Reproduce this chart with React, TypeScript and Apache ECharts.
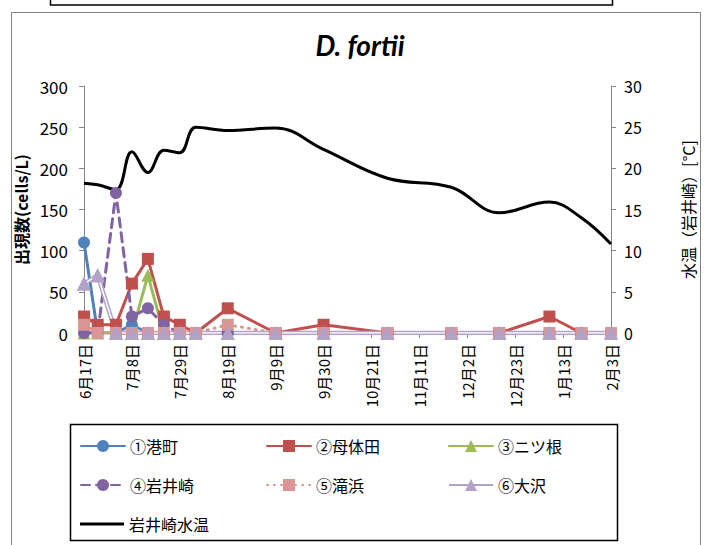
import React, { useEffect, useRef } from "react";
import * as echarts from "echarts";

// sampling dates (month/day), June 2012 – Feb 2013
const dates = ["6/17", "6/23", "7/1", "7/8", "7/15", "7/22", "7/29", "8/5", "8/19", "9/9", "9/30", "10/28", "11/25", "12/16", "1/7", "1/21", "2/3"];
const minatomachi = [110, 0, 0, 10, 0, 0, 0, 0, 0, 0, 0, 0, 0, 0, 0, 0, 0];
const motaida = [20, 10, 10, 60, 90, 20, 10, 0, 30, 0, 10, 0, 0, 0, 20, 0, 0];
const futatsune = [0, 0, 0, 0, 70, 0, 0, 0, 0, 0, 0, 0, 0, 0, 0, 0, 0];
const iwaisaki = [0, 0, 170, 20, 30, 10, 0, 0, 0, 0, 0, 0, 0, 0, 0, 0, 0];
const takinohama = [10, 0, 0, 0, 0, 0, 0, 0, 10, 0, 0, 0, 0, 0, 0, 0, 0];
const osawa = [60, 70, 0, 0, 0, 0, 0, 0, 0, 0, 0, 0, 0, 0, 0, 0, 0];
const waterTemp = [18.2, 18.0, 17.4, 22.0, 19.5, 22.2, 21.9, 25.0, 24.6, 24.9, 22.3, 18.8, 17.7, 14.6, 15.9, 14.0, 10.8];

const seriesNames = ["①港町", "②母体田", "③ニツ根", "④岩井崎", "⑤滝浜", "⑥大沢", "岩井崎水温"];

const BASE = Date.UTC(2012, 5, 17);
const DAY = 86400000;
const dayOffset = (s: string) => {
  const [m, d] = s.split("/").map(Number);
  const y = m >= 6 ? 2012 : 2013;
  return Math.round((Date.UTC(y, m - 1, d) - BASE) / DAY);
};
const xs = dates.map(dayOffset);
const pts = (vals: number[]) => vals.map((v, i) => [xs[i], v]);

const FONT = "'Noto Sans CJK JP', 'Noto Sans', sans-serif";
const AXIS_COLOR = "#868686";

export default function App() {
  const ref = useRef<HTMLDivElement>(null);
  useEffect(() => {
    if (!ref.current) return;
    const chart = echarts.init(ref.current, null, { renderer: "svg" });

    const legendPos: [number, number][] = [
      [75, 433], [261, 433], [443, 433],
      [75, 472], [261, 472], [443, 472],
      [75, 511],
    ];

    const lineSeries = (name: string, data: number[], color: string, symbol: string, size: number, lineType: any, extra: any = {}) => ({
      name,
      type: "line",
      data: pts(data),
      symbol,
      symbolSize: size,
      itemStyle: { color },
      lineStyle: { color, width: 3, type: lineType, cap: "round" },
      ...extra,
    });

    const option: any = {
      animation: false,
      textStyle: { fontFamily: FONT, color: "#000" },
      title: {
        text: "D. fortii",
        left: 355,
        top: 26,
        textAlign: "center",
        textStyle: { fontFamily: "Lato, 'Open Sans', sans-serif", fontStyle: "italic", fontWeight: "bold", fontSize: 28, color: "#000" },
      },
      legend: legendPos.map((p, i) => {
        const isTemp = i === 6;
        return {
          data: [isTemp ? { name: seriesNames[i], icon: "rect" } : seriesNames[i]],
          left: p[0],
          top: p[1],
          itemWidth: 44,
          itemHeight: isTemp ? 3 : 15,
          itemGap: 4,
          textStyle: { fontSize: 16, fontFamily: FONT, color: "#000" },
        };
      }),
      grid: { left: 84, right: 98, top: 86, bottom: 212 },
      xAxis: {
        type: "value",
        min: 0,
        max: 231,
        interval: 21,
        axisLine: { lineStyle: { color: AXIS_COLOR, width: 1 } },
        axisTick: { show: true, length: 5, lineStyle: { color: AXIS_COLOR } },
        splitLine: { show: false },
        axisLabel: {
          rotate: 90,
          fontSize: 15,
          margin: 11,
          color: "#000",
          formatter: (v: number) => {
            const dt = new Date(BASE + v * DAY);
            return `${dt.getUTCMonth() + 1}月${dt.getUTCDate()}日`;
          },
        },
      },
      yAxis: [
        {
          type: "value",
          min: 0,
          max: 300,
          interval: 50,
          name: "出現数(cells/L)",
          nameLocation: "middle",
          nameRotate: 90,
          nameGap: 50,
          nameTextStyle: { fontSize: 16, fontWeight: "bold", color: "#000" },
          axisLine: { show: true, lineStyle: { color: AXIS_COLOR } },
          axisTick: { show: true, length: 5, lineStyle: { color: AXIS_COLOR } },
          splitLine: { show: false },
          axisLabel: { fontSize: 17, color: "#000", margin: 16 },
        },
        {
          type: "value",
          min: 0,
          max: 30,
          interval: 5,
          position: "right",
          name: "水温（岩井崎）[°C]",
          nameLocation: "middle",
          nameRotate: 90,
          nameGap: 69,
          nameTextStyle: { fontSize: 16, color: "#000" },
          axisLine: { show: true, lineStyle: { color: AXIS_COLOR } },
          axisTick: { show: true, length: 5, lineStyle: { color: AXIS_COLOR } },
          splitLine: { show: false },
          axisLabel: { fontSize: 16, color: "#000", margin: 13 },
        },
      ],
      series: [
        lineSeries(seriesNames[0], minatomachi, "#4F81BD", "circle", 12, "solid"),
        lineSeries(seriesNames[1], motaida, "#C0504D", "rect", 12, "solid"),
        lineSeries(seriesNames[2], futatsune, "#9BBB59", "triangle", 13, "solid"),
        lineSeries(seriesNames[3], iwaisaki, "#8064A2", "circle", 12, [9, 6]),
        lineSeries(seriesNames[4], takinohama, "#D99694", "rect", 12, [1, 6]),
        lineSeries(seriesNames[5], osawa, "#B3A2C7", "triangle", 14, "solid", { lineStyle: { color: "#B3A2C7", width: 4.5 } }),
        {
          name: "osawa-inner",
          type: "line",
          data: pts(osawa),
          symbol: "none",
          lineStyle: { color: "#fff", width: 1.5 },
          silent: true,
        },
        {
          name: "osawa-marks",
          type: "line",
          data: pts(osawa),
          symbol: "triangle",
          symbolSize: 14,
          itemStyle: { color: "#B3A2C7" },
          lineStyle: { opacity: 0 },
          silent: true,
        },
        {
          name: seriesNames[6],
          type: "line",
          yAxisIndex: 1,
          data: pts(waterTemp),
          smooth: 0.4,
          symbol: "none",
          itemStyle: { color: "#000" },
          lineStyle: { color: "#000", width: 3 },
        },
      ],
      graphic: [
        { type: "rect", shape: { x: 11.5, y: 12.5, width: 689, height: 545 }, style: { fill: "none", stroke: "#808080", lineWidth: 1 }, silent: true },
        { type: "rect", shape: { x: 50.5, y: -20, width: 562, height: 25 }, style: { fill: "none", stroke: "#000", lineWidth: 1.5 }, silent: true },
        { type: "rect", shape: { x: 70.5, y: 424.5, width: 547, height: 116 }, style: { fill: "none", stroke: "#000", lineWidth: 1.5 }, silent: true },
      ],
    };
    chart.setOption(option);
    return () => chart.dispose();
  }, []);
  return <div ref={ref} style={{ position: "fixed", left: 0, top: 0, width: 709, height: 545, background: "#fff" }} />;
}
